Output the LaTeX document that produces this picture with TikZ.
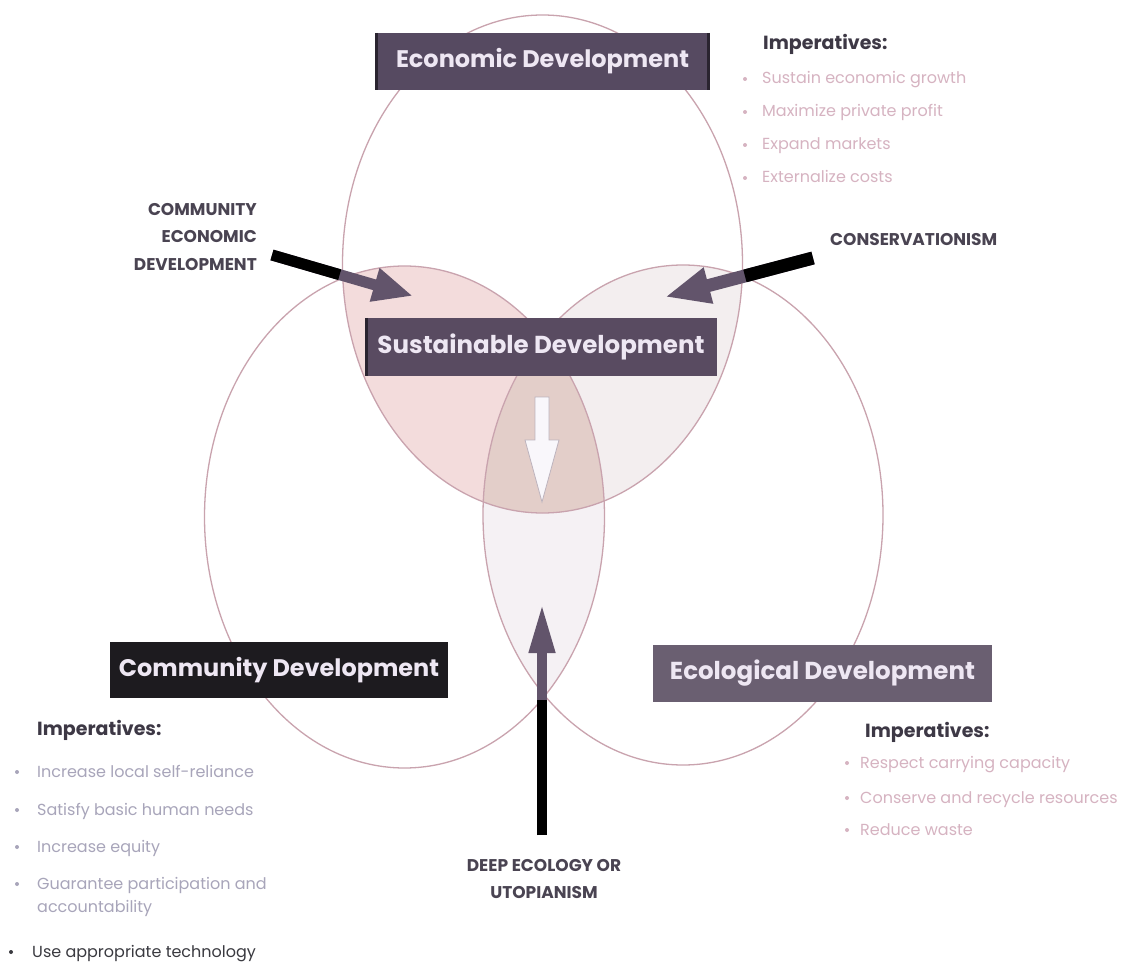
\documentclass[tikz,border=0pt]{standalone}
\usepackage{fontspec}
\setmainfont{Poppins}
\usepackage{graphicx}
\usetikzlibrary{arrows.meta,calc}
\definecolor{ringc}{HTML}{C9A3AE}
\definecolor{tlc}{HTML}{F3DCDC}
\definecolor{trc}{HTML}{F3EEEF}
\definecolor{lrc}{HTML}{F5F1F4}
\definecolor{tlrc}{HTML}{E3CEC9}
\definecolor{econc}{HTML}{564A61}
\definecolor{sustc}{HTML}{594B61}
\definecolor{commc}{HTML}{1D1B1F}
\definecolor{ecolc}{HTML}{6A5F71}
\definecolor{edgec}{HTML}{2A2430}
\definecolor{boxtext}{HTML}{EEE7F3}
\definecolor{headc}{HTML}{3D3845}
\definecolor{capc}{HTML}{4A4452}
\definecolor{pinktext}{HTML}{D6B3C1}
\definecolor{graytext}{HTML}{A8A5BA}
\definecolor{darktext}{HTML}{3A3A40}
\definecolor{arrowc}{HTML}{62546B}
\definecolor{wout}{HTML}{BDB3BD}
\definecolor{wfill}{HTML}{F9F7FB}
\newcommand\fitw[2]{\resizebox{#1}{!}{#2}}
\begin{document}
\begin{tikzpicture}[x=1pt,y=-1pt,
  ring/.style={draw=ringc,line width=1.3pt},
  hbox/.style={inner sep=0pt,text=boxtext,font=\bfseries},
  imp/.style={anchor=base west,inner sep=0pt,text=headc,font=\fontsize{19}{21}\selectfont\bfseries},
  item/.style={anchor=base west,inner sep=0pt,font=\fontsize{16}{18}\selectfont},
  capw/.style={inner sep=0pt,text=capc,font=\fontsize{17}{19}\selectfont\bfseries},
  dot/.style={circle,inner sep=0pt,minimum size=4pt},
  bigarrow/.style={arrowc}]
\useasboundingbox (0,0) rectangle (1129,965);
\fill[white] (0,0) rectangle (1129,965);

% region fills
\begin{scope}
  \clip (404.5,517) ellipse [x radius=200pt,y radius=251pt];
  \fill[lrc] (683,515) ellipse [x radius=200pt,y radius=250pt];
\end{scope}
\begin{scope}
  \clip (542.5,264) ellipse [x radius=200pt,y radius=249pt];
  \fill[tlc] (404.5,517) ellipse [x radius=200pt,y radius=251pt];
  \fill[trc] (683,515) ellipse [x radius=200pt,y radius=250pt];
  \clip (404.5,517) ellipse [x radius=200pt,y radius=251pt];
  \fill[tlrc] (683,515) ellipse [x radius=200pt,y radius=250pt];
\end{scope}

% circle outlines
\draw[ring] (542.5,264) ellipse [x radius=200pt,y radius=249pt];
\draw[ring] (404.5,517) ellipse [x radius=200pt,y radius=251pt];
\draw[ring] (683,515) ellipse [x radius=200pt,y radius=250pt];

% white arrow in the centre
\filldraw[fill=wfill,draw=wout,line width=0.8pt]
  (535,397) -- (535,440) -- (525,440) -- (542,502) -- (559,440) -- (549,440) -- (549,397) -- cycle;

% header boxes
\node[hbox,fill=econc,minimum width=335pt,minimum height=57pt] (econ) at (542.5,61.5) {\fitw{293pt}{Economic Development}};
\draw[edgec,line width=3pt] ([xshift=1.5pt]econ.north west) -- ([xshift=1.5pt]econ.south west);
\draw[edgec,line width=3pt] ([xshift=-1.5pt]econ.north east) -- ([xshift=-1.5pt]econ.south east);
\node[hbox,fill=sustc,minimum width=352pt,minimum height=58pt] (sust) at (541,347) {\fitw{327pt}{Sustainable Development}};
\draw[edgec,line width=3pt] ([xshift=1.5pt]sust.north west) -- ([xshift=1.5pt]sust.south west);
\node[hbox,fill=commc,minimum width=338pt,minimum height=56pt] (comm) at (279,670) {\fitw{320pt}{Community Development}};
\node[hbox,fill=ecolc,minimum width=339pt,minimum height=57pt] (ecol) at (822.5,673.5) {\fitw{305pt}{Ecological Development}};

% side labels
\node[capw,anchor=base east] (ced1) at (257,216) {COMMUNITY};
\node[capw,anchor=base east] (ced2) at (257,243) {ECONOMIC};
\node[capw,anchor=base east] (ced3) at (257,271) {DEVELOPMENT};
\node[capw,anchor=base west] (cons) at (830,246) {CONSERVATIONISM};
\node[capw,anchor=base] (deep1) at (544,871) {DEEP ECOLOGY OR};
\node[capw,anchor=base] (deep2) at (544,898) {UTOPIANISM};

% arrows
\coordinate (cedtail) at (272,255);
\coordinate (cedtip) at (413,296);
\draw[bigarrow,line width=11pt,-{Triangle[length=40pt,width=32pt]}] (cedtail) -- (cedtip);
\draw[black,line width=11pt] (cedtail) -- ($(cedtail)!0.48!(cedtip)$);

\coordinate (constail) at (813,258);
\coordinate (constip) at (665,297);
\draw[bigarrow,line width=13pt,-{Triangle[length=45pt,width=34pt]}] (constail) -- (constip);
\draw[black,line width=13pt] (constail) -- ($(constail)!0.46!(constip)$);

\coordinate (deeptail) at (542,835);
\coordinate (deeptip) at (542,603);
\draw[bigarrow,line width=10pt,-{Triangle[length=50pt,width=24pt]}] (deeptail) -- (deeptip);
\draw[black,line width=10pt] (deeptail) -- ($(deeptail)!0.58!(deeptip)$);

% top right imperatives
\node[imp] (impE) at (763,50) {Imperatives:};
\node[item,text=pinktext] (e1) at (762,84) {Sustain economic growth};
\node[item,text=pinktext] (e2) at (762,117) {Maximize private profit};
\node[item,text=pinktext] (e3) at (762,150) {Expand markets};
\node[item,text=pinktext] (e4) at (762,183) {Externalize costs};
\foreach \y/\n in {79/be1,112/be2,145/be3,178/be4}
  \node[dot,fill=pinktext] (\n) at (745,\y) {};

% bottom left imperatives
\node[imp] (impC) at (37,735) {Imperatives:};
\node[item,text=graytext] (c1) at (37,777) {Increase local self-reliance};
\node[item,text=graytext] (c2) at (37,815) {Satisfy basic human needs};
\node[item,text=graytext] (c3) at (37,852) {Increase equity};
\node[item,text=graytext] (c4) at (37,889) {Guarantee participation and};
\node[item,text=graytext] (c5) at (37,912) {accountability};
\foreach \y/\n in {772/bc1,810/bc2,847/bc3,884/bc4}
  \node[dot,fill=graytext] (\n) at (17,\y) {};
\node[item,text=darktext] (c6) at (32,957) {Use appropriate technology};
\node[dot,fill=darktext] (bc6) at (11,952) {};

% bottom right imperatives
\node[imp] (impG) at (865,737) {Imperatives:};
\node[item,text=pinktext] (g1) at (860,768) {Respect carrying capacity};
\node[item,text=pinktext] (g2) at (860,803) {Conserve and recycle resources};
\node[item,text=pinktext] (g3) at (860,835) {Reduce waste};
\foreach \y/\n in {763/bg1,798/bg2,830/bg3}
  \node[dot,fill=pinktext] (\n) at (847,\y) {};
\end{tikzpicture}
\end{document}
